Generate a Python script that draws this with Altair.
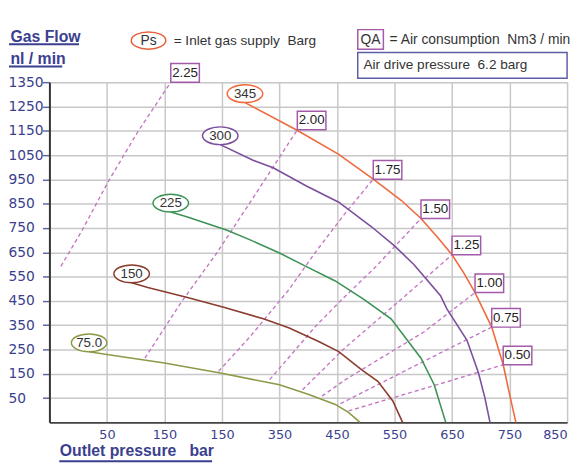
import altair as alt
import pandas as pd

# ---------------- data ----------------
x_ticks = [50, 150, 250, 350, 450, 550, 650, 750, 850]
x_tick_labels = ["50", "150", "150", "350", "450", "550", "650", "750", "850"]
y_ticks = [50, 150, 250, 350, 450, 550, 650, 750, 850, 950, 1050, 1150, 1250, 1350]

# Inlet gas supply pressure curves (Ps, barg)
ps_labels = ["345", "300", "225", "150", "75.0"]
ps_colors = ["#ef6a3c", "#7b4f9e", "#3d9255", "#8a3d2e", "#8c9a48"]
ps345_x = [290, 379, 453, 513, 562, 596, 624, 650, 670, 690, 719, 739, 750, 761]
ps345_y = [1266, 1154, 1053, 951, 863, 789, 714, 640, 566, 484, 342, 187, 65, -50]
ps300_x = [247, 304, 339, 396, 453, 510, 550, 584, 630, 641, 676, 696, 707, 716]
ps300_y = [1093, 1029, 998, 924, 856, 755, 676, 599, 471, 417, 288, 153, 52, -50]
ps225_x = [161, 190, 259, 299, 350, 396, 447, 496, 544, 596, 619, 639]
ps225_y = [816, 795, 741, 701, 647, 592, 532, 457, 376, 214, 105, -50]
ps150_x = [93, 121, 190, 253, 322, 367, 419, 453, 493, 521, 547, 564]
ps150_y = [525, 505, 464, 424, 376, 338, 282, 241, 166, 119, 38, -50]
ps75_x = [19, 47, 150, 247, 350, 401, 447, 470, 490]
ps75_y = [241, 230, 194, 153, 105, 65, 24, -9, -50]
ps_x = [ps345_x, ps300_x, ps225_x, ps150_x, ps75_x]
ps_y = [ps345_y, ps300_y, ps225_y, ps150_y, ps75_y]

# Air consumption lines (QA, Nm3/min)
qa_labels = ["2.25", "2.00", "1.75", "1.50", "1.25", "1.00", "0.75", "0.50"]
qa225_x = [-30, 7, 53, 104, 161]
qa225_y = [592, 741, 944, 1147, 1350]
qa200_x = [116, 179, 241, 316, 381]
qa200_y = [214, 444, 647, 917, 1154]
qa175_x = [244, 299, 367, 413, 464, 513]
qa175_y = [160, 303, 498, 652, 810, 951]
qa150_x = [333, 413, 459, 516, 596]
qa150_y = [126, 346, 457, 587, 789]
qa125_x = [390, 464, 562, 650]
qa125_y = [84, 257, 457, 640]
qa100_x = [424, 464, 601, 690]
qa100_y = [58, 125, 322, 484]
qa075_x = [456, 584, 719]
qa075_y = [27, 181, 342]
qa050_x = [470, 624, 739]
qa050_y = [-3, 105, 187]
qa_x = [qa225_x, qa200_x, qa175_x, qa150_x, qa125_x, qa100_x, qa075_x, qa050_x]
qa_y = [qa225_y, qa200_y, qa175_y, qa150_y, qa125_y, qa100_y, qa075_y, qa050_y]

# ---------------- tables ----------------
curve_rows = []
for lab, xs, ys in zip(ps_labels, ps_x, ps_y):
    for i, (a, b) in enumerate(zip(xs, ys)):
        curve_rows.append({"series": lab, "x": a, "y": b, "o": i})
curves = pd.DataFrame(curve_rows)
curve_start = pd.DataFrame({"series": ps_labels,
                            "x": [xs[0] for xs in ps_x],
                            "y": [ys[0] for ys in ps_y]})

qa_rows = []
for lab, xs, ys in zip(qa_labels, qa_x, qa_y):
    for i, (a, b) in enumerate(zip(xs, ys)):
        qa_rows.append({"qa": lab, "x": a, "y": b, "o": i})
qa = pd.DataFrame(qa_rows)
qa_end = pd.DataFrame({"qa": qa_labels,
                       "x": [xs[-1] for xs in qa_x],
                       "y": [ys[-1] for ys in qa_y]})

# ---------------- styling ----------------
BLUE = "#3b3f8f"
FONT = "Liberation Sans"
QA_LINE = "#c478c4"
QA_BOX = "#a45aa8"

labels_js = "[" + ",".join("'%s'" % s for s in x_tick_labels) + "]"
vals_js = "[" + ",".join(str(v) for v in x_ticks) + "]"

xscale = alt.Scale(domain=[-50, 850], nice=False, zero=False)
yscale = alt.Scale(domain=[-50, 1350], nice=False, zero=False)
cscale = alt.Scale(domain=ps_labels, range=ps_colors)

x_axis = alt.Axis(values=x_ticks, tickCount=30,
                  labelExpr="%s[indexof(%s, datum.value)]" % (labels_js, vals_js),
                  grid=True, gridColor="#c8c8c8", gridWidth=1.5, ticks=False,
                  domainColor="#444444", domainWidth=2, labelFont="DejaVu Sans",
                  labelFontSize=13, labelColor=BLUE, labelPadding=6, labelFlush=True,
                  labelOverlap=False,
                  title="Outlet pressure\u00a0\u00a0 bar", titleAnchor="start", titleAlign="left",
                  titleBaseline="alphabetic", titleX=10, titleY=34, titleFont=FONT,
                  titleFontSize=16, titleFontWeight="bold", titleColor=BLUE)
y_axis = alt.Axis(values=y_ticks, tickCount=30, format="d", grid=True, gridColor="#c8c8c8",
                  gridWidth=1.5, tickSize=7, tickColor="#6065a8", tickWidth=1.5,
                  domainColor="#333333", domainWidth=2, labelAlign="left", labelPadding=35,
                  labelFont="DejaVu Sans", labelFontSize=14, labelColor=BLUE, labelOverlap=False,
                  title=["Gas Flow", "nl / min"], titleAngle=0, titleAlign="left",
                  titleBaseline="alphabetic", titleX=-40, titleY=-41, titleLineHeight=22,
                  titleFont=FONT, titleFontSize=16, titleFontWeight="bold", titleColor=BLUE)

qa_lines = alt.Chart(qa).mark_line(strokeDash=[4, 3], strokeWidth=1.4, color=QA_LINE).encode(
    x=alt.X("x:Q", scale=xscale, axis=x_axis),
    y=alt.Y("y:Q", scale=yscale, axis=y_axis),
    detail="qa:N", order="o:Q")

curve_lines = alt.Chart(curves).mark_line(strokeWidth=1.6).encode(
    x=alt.X("x:Q", scale=xscale), y=alt.Y("y:Q", scale=yscale),
    color=alt.Color("series:N", scale=cscale, legend=None),
    detail="series:N", order="o:Q")

BOX_PATH = "M0,0 L2,0 L2,-1.3 L0,-1.3 Z"
qa_boxes = alt.Chart(qa_end).mark_point(shape=BOX_PATH, size=841, filled=True, fill="white",
                                        fillOpacity=1, stroke=QA_BOX, strokeWidth=1.5,
                                        opacity=1).encode(
    x=alt.X("x:Q", scale=xscale), y=alt.Y("y:Q", scale=yscale))
qa_text = alt.Chart(qa_end).mark_text(dx=14.5, dy=-9.5, align="center", baseline="middle",
                                      font=FONT, fontSize=13.5, color="#222222").encode(
    x=alt.X("x:Q", scale=xscale), y=alt.Y("y:Q", scale=yscale), text="qa:N")

ELL_PATH = ("M1,-0.5 C1,-0.224 0.552,0 0,0 C-0.552,0 -1,-0.224 -1,-0.5 "
            "C-1,-0.776 -0.552,-1 0,-1 C0.552,-1 1,-0.776 1,-0.5 Z")
ps_ell = alt.Chart(curve_start).mark_point(shape=ELL_PATH, size=1296, filled=True, fill="white",
                                           fillOpacity=1, strokeWidth=1.5, opacity=1).encode(
    x=alt.X("x:Q", scale=xscale), y=alt.Y("y:Q", scale=yscale),
    stroke=alt.Stroke("series:N", scale=cscale, legend=None))
ps_text = alt.Chart(curve_start).mark_text(dy=-9, align="center", baseline="middle",
                                           font=FONT, fontSize=13.5, color="#333333").encode(
    x=alt.X("x:Q", scale=xscale), y=alt.Y("y:Q", scale=yscale), text="series:N")

one = pd.DataFrame({"k": [0]})


def txt(s, x, y, **kw):
    return alt.Chart(one).mark_text(text=s, **kw).encode(x=alt.value(x), y=alt.value(y))


def rule(x1, x2, y, color, w):
    return alt.Chart(one).mark_rule(color=color, strokeWidth=w).encode(
        x=alt.value(x1), x2=alt.value(x2), y=alt.value(y))


ann = [
    rule(-41, 30, -38.5, BLUE, 2),
    rule(-41, 13, -16, BLUE, 2),
    rule(10, 165, 384.5, BLUE, 2),
    alt.Chart(one).mark_point(shape=ELL_PATH, size=1225, filled=True, fill="white", fillOpacity=1,
                              stroke="#e8603a", strokeWidth=1.5, opacity=1).encode(
        x=alt.value(100.5), y=alt.value(-33.5)),
    txt("Ps", 100.5, -42, font=FONT, fontSize=14, color="#333333", align="center", baseline="middle"),
    txt("= Inlet gas supply\u00a0\u00a0Barg", 126, -42, font=FONT, fontSize=13.8, color="#333333",
        align="left", baseline="middle"),
    alt.Chart(one).mark_rect(fill="white", stroke=QA_BOX, strokeWidth=1.5).encode(
        x=alt.value(312.7), x2=alt.value(338.7), y=alt.value(-53.3), y2=alt.value(-33.3)),
    txt("QA", 325.7, -43, font=FONT, fontSize=14, color="#333333", align="center", baseline="middle"),
    txt("= Air consumption\u00a0\u00a0Nm3 / min", 345, -43, font=FONT, fontSize=14, color="#333333",
        align="left", baseline="middle"),
    alt.Chart(one).mark_rect(fill="white", stroke="#5d5ea8", strokeWidth=1.5).encode(
        x=alt.value(312.7), x2=alt.value(525), y=alt.value(-30), y2=alt.value(-4)),
    txt("Air drive pressure\u00a0\u00a06.2 barg", 318.5, -17, font=FONT, fontSize=13.8,
        color="#333333", align="left", baseline="middle"),
]

chart = alt.layer(qa_lines, curve_lines, qa_boxes, qa_text, ps_ell, ps_text, *ann).properties(
    width=525, height=345,
    autosize=alt.AutoSizeParams(type="none"),
    padding={"left": 42, "top": 72, "right": 6, "bottom": 40},
).configure_view(strokeWidth=0).configure(background="white")

chart.save("out.html", embed_options={"renderer": "svg", "actions": False})
